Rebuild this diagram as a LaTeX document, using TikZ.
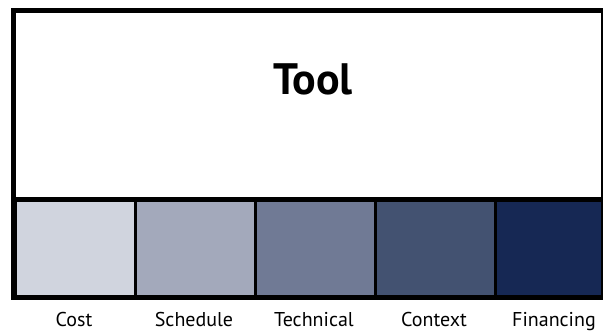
\documentclass[tikz,border=0pt]{standalone}
\usepackage{fontspec}
\setmainfont{PT Sans}
\usepackage{xcolor}
\definecolor{costcol}{RGB}{208,212,222}
\definecolor{schedcol}{RGB}{163,169,187}
\definecolor{techcol}{RGB}{112,122,149}
\definecolor{contcol}{RGB}{67,82,113}
\definecolor{fincol}{RGB}{22,40,84}
\tikzset{
  cellbox/.style={draw,line width=2.5pt,anchor=north west,inner sep=0pt,
    minimum width=120pt,minimum height=98pt},
  lbl/.style={anchor=base,inner sep=0pt,font=\fontsize{20}{22}\selectfont}
}

\begin{document}
\begin{tikzpicture}[x=1pt,y=-1pt]
\useasboundingbox (0,0) rectangle (603,332);
% the five parts of the bar
\foreach \i/\c/\t in {0/costcol/Cost,1/schedcol/Schedule,2/techcol/Technical,3/contcol/Context,4/fincol/Financing}{
  \node[cellbox,fill=\c] (cell\i) at (14+120*\i,199.5) {};
  \node[lbl] (lbl\i) at (74+120*\i,326.5) {\t};
}
% outer frame
\draw[line width=5pt] (13.5,10.5) rectangle (603.5,297.5);
\draw[line width=5pt] (13.5,199.5) -- (603.5,199.5);
\node[inner sep=0pt,font=\bfseries\fontsize{44}{48}\selectfont,anchor=base] (tool) at (313,94) {Tool};
\end{tikzpicture}
\end{document}
